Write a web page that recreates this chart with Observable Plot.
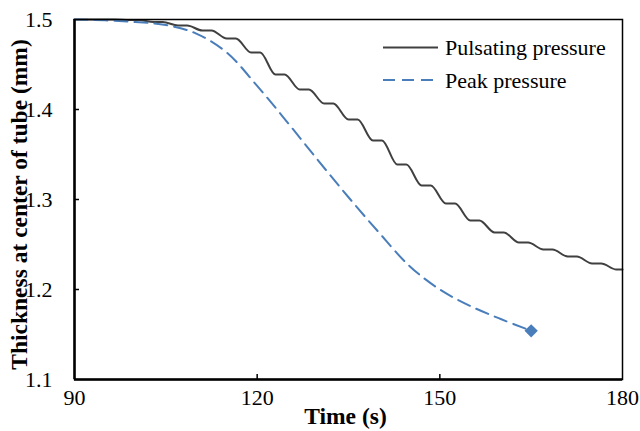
<!DOCTYPE html>
<html>
<head>
<meta charset="utf-8">
<script src="https://cdn.jsdelivr.net/npm/d3@7"></script>
<script src="https://cdn.jsdelivr.net/npm/@observablehq/plot@0.6"></script>
<style>
  html, body { margin: 0; padding: 0; background: #fff; }
  #chart { position: relative; width: 640px; height: 431px; font-family: "Liberation Serif", "Times New Roman", serif; }
  #legend { position: absolute; left: 0; top: 0; pointer-events: none; }
</style>
</head>
<body>
<div id="chart"></div>
<script>
// ---- Data ----
const xTicks = [90, 120, 150, 180];
const yTicks = [1.1, 1.2, 1.3, 1.4, 1.5];
const xDomain = [90, 180];
const yDomain = [1.1, 1.5];

const seriesNames = ["Pulsating pressure", "Peak pressure"];
const seriesColors = ["#404040", "#4a7ebb"];

// Pulsating pressure: stepped/wavy decline (plateau start & end times)
const pulseTime = [90, 95, 96.5, 99, 100.5, 103, 104.5, 107, 108.5, 111, 112.5, 115, 116.5, 119, 120.5,
  123, 124.5, 127, 128.5, 131, 132.5, 135, 136.5, 139, 140.5, 143, 144.5, 147, 148.5, 151, 152.5,
  155, 156.5, 159, 160.5, 163, 164.5, 167, 168.5, 171, 172.5, 175, 176.5, 179, 180];
const pulseValue = [1.5, 1.5, 1.5, 1.4994, 1.4994, 1.4972, 1.4972, 1.4933, 1.4933, 1.4878, 1.4878,
  1.4789, 1.4789, 1.4633, 1.4633, 1.4389, 1.4389, 1.4222, 1.4222, 1.4067, 1.4067,
  1.3889, 1.3889, 1.3656, 1.3656, 1.3389, 1.3389, 1.3156, 1.3156, 1.2956, 1.2956,
  1.2767, 1.2767, 1.2633, 1.2633, 1.2522, 1.2522, 1.2444, 1.2444, 1.2367, 1.2367,
  1.2289, 1.2289, 1.2222, 1.2222];

// Peak pressure: smooth decline ending with a marker
const peakTime = [90, 95, 100, 105, 110, 115, 120, 125, 130, 135, 140, 145, 150, 155, 160, 165];
const peakValue = [1.5, 1.4991, 1.4972, 1.4939, 1.4844, 1.4633, 1.4262, 1.3855, 1.3435,
  1.3025, 1.2633, 1.2262, 1.2, 1.1817, 1.1672, 1.1541];

const xTitle = "Time (s)";
const yTitle = "Thickness at center of tube (mm)";

// ---- Build tables ----
const pulse = pulseTime.map((t, i) => ({t, v: pulseValue[i]}));
const peak = peakTime.map((t, i) => ({t, v: peakValue[i]}));
const peakEnd = [peak[peak.length - 1]];

const font = '"Liberation Serif", "Times New Roman", serif';

const plot = Plot.plot({
  width: 640,
  height: 431,
  marginLeft: 74,
  marginRight: 18,
  marginTop: 19,
  marginBottom: 52,
  style: {fontFamily: font, fontSize: "22px", color: "#000", background: "#fff"},
  x: {domain: xDomain, label: null},
  y: {domain: yDomain, label: null},
  marks: [
    // tick labels
    Plot.axisX({ticks: xTicks, tickSize: 0, tickPadding: 10, tickFormat: d => String(d), fontSize: 22}),
    Plot.axisY({ticks: yTicks, tickSize: 0, tickPadding: 22, tickFormat: d3.format(".1f"), fontSize: 22}),
    // inward tick marks
    Plot.axisX({ticks: xTicks.slice(1, -1), tickSize: -5, tickFormat: () => "", strokeWidth: 1.5, stroke: "#000"}),
    Plot.axisY({ticks: yTicks.slice(1, -1), tickSize: -5, tickFormat: () => "", strokeWidth: 1.5, stroke: "#000"}),
    // series
    Plot.line(pulse, {x: "t", y: "v", stroke: seriesColors[0], strokeWidth: 2, curve: "monotone-x"}),
    Plot.line(peak, {x: "t", y: "v", stroke: seriesColors[1], strokeWidth: 2, curve: "catmull-rom",
      strokeDasharray: "13,7"}),
    Plot.dot(peakEnd, {x: "t", y: "v", symbol: "diamond2", r: 6, fill: seriesColors[1], stroke: "none"}),
    // frame
    Plot.frame({stroke: "#000", strokeWidth: 1.5}),
    Plot.ruleX([xDomain[0]], {stroke: "#000", strokeWidth: 2.5}),
    Plot.ruleY([yDomain[0]], {stroke: "#000", strokeWidth: 2.5}),
    // axis titles
    Plot.text([xTitle], {frameAnchor: "bottom", dy: 37, dx: -3, lineAnchor: "middle", textAnchor: "middle",
      fontWeight: "bold", fontSize: 23.5, text: d => d}),
    Plot.text([yTitle], {frameAnchor: "left", dx: -55, dy: 5, rotate: -90, lineAnchor: "middle", textAnchor: "middle",
      fontWeight: "bold", fontSize: 23.5, text: d => d})
  ]
});

const chart = document.getElementById("chart");
chart.appendChild(plot);

// ---- Legend (overlay) ----
const ns = "http://www.w3.org/2000/svg";
const leg = document.createElementNS(ns, "svg");
leg.setAttribute("id", "legend");
leg.setAttribute("width", 640);
leg.setAttribute("height", 431);
const legendRows = [{y: 47.5, dash: null}, {y: 80, dash: "12,7"}];
seriesNames.forEach((name, i) => {
  const row = legendRows[i];
  const ln = document.createElementNS(ns, "line");
  ln.setAttribute("x1", 383); ln.setAttribute("x2", 438);
  ln.setAttribute("y1", row.y); ln.setAttribute("y2", row.y);
  ln.setAttribute("stroke", seriesColors[i]);
  ln.setAttribute("stroke-width", 2);
  if (row.dash) ln.setAttribute("stroke-dasharray", row.dash);
  leg.appendChild(ln);
  const tx = document.createElementNS(ns, "text");
  tx.setAttribute("x", 445);
  tx.setAttribute("y", row.y);
  tx.setAttribute("dy", "0.35em");
  tx.setAttribute("font-family", font);
  tx.setAttribute("font-size", 22);
  tx.setAttribute("fill", "#000");
  tx.textContent = name;
  leg.appendChild(tx);
});
chart.appendChild(leg);
</script>
</body>
</html>
